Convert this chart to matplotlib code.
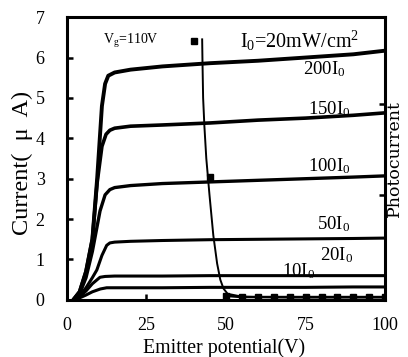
import matplotlib
matplotlib.use("Agg")
import matplotlib.pyplot as plt
import numpy as np

plt.rcParams['font.family'] = ['Liberation Serif', 'DejaVu Serif']
plt.rcParams['mathtext.default'] = 'regular'

# Photo-emission curves (x: emitter potential V, y: current uA)
x_200 = [2, 4, 6, 8, 9.5, 11, 12, 13, 15, 20, 30, 45, 60, 75, 90, 100]
y_200 = [0, 0.2, 0.7, 1.5, 3.0, 4.8, 5.35, 5.55, 5.63, 5.7, 5.78, 5.86, 5.92, 6.0, 6.08, 6.17]
x_150 = [2, 4, 6, 8, 9.5, 11, 12.3, 13.5, 15, 20, 30, 45, 60, 75, 90, 100]
y_150 = [0, 0.2, 0.7, 1.5, 2.9, 3.8, 4.1, 4.2, 4.25, 4.3, 4.33, 4.38, 4.45, 4.5, 4.57, 4.63]
x_100 = [2, 4, 6, 8, 10.4, 12, 13.5, 15, 20, 30, 45, 60, 75, 90, 100]
y_100 = [0, 0.15, 0.55, 1.2, 2.2, 2.6, 2.73, 2.78, 2.83, 2.88, 2.92, 2.96, 3.0, 3.04, 3.07]
x_50 = [2, 4, 6, 8, 9.4, 11, 12.5, 13.5, 15, 20, 30, 45, 60, 75, 90, 100]
y_50 = [0, 0.1, 0.3, 0.55, 0.74, 1.1, 1.35, 1.41, 1.43, 1.45, 1.47, 1.49, 1.5, 1.51, 1.52, 1.53]
x_20 = [2, 4, 6, 8, 10.4, 12, 15, 20, 30, 45, 60, 75, 90, 100]
y_20 = [0, 0.08, 0.22, 0.4, 0.56, 0.58, 0.59, 0.59, 0.59, 0.6, 0.6, 0.6, 0.6, 0.6]
x_10 = [2, 4, 6, 8, 10.5, 12.5, 15, 20, 30, 45, 60, 75, 90, 100]
y_10 = [0, 0.05, 0.12, 0.2, 0.27, 0.3, 0.3, 0.3, 0.3, 0.31, 0.31, 0.31, 0.32, 0.32]

# Photocurrent line and markers
x_pc_line = [42.5, 42.6, 42.8, 43.2, 43.8, 44.8, 46.0, 47.2, 48.2, 49.2, 50.5, 55, 60, 70, 80, 90, 100]
y_pc_line = [6.45, 5.9, 5.0, 4.3, 3.5, 2.6, 1.6, 0.9, 0.5, 0.28, 0.15, 0.08, 0.07, 0.06, 0.06, 0.06, 0.06]
x_pc_mark = [40, 45, 50, 55, 60, 65, 70, 75, 80, 85, 90, 95, 100]
y_pc_mark = [6.4, 3.05, 0.1, 0.07, 0.07, 0.07, 0.07, 0.07, 0.07, 0.07, 0.07, 0.07, 0.07]

labels = ["200I$_0$", "150I$_0$", "100I$_0$", "50I$_0$", "20I$_0$", "10I$_0$"]
label_pos = [(87.5, 5.72), (89, 4.72), (89, 3.3), (89, 1.88), (90, 1.1), (78, 0.72)]
right_ticks = [2.6, 4.85]

fig = plt.figure(figsize=(4.08, 3.57), dpi=100)
ax = fig.add_axes([0.164, 0.160, 0.780, 0.792])

for xs, ys, lw in [(x_200, y_200, 2.8), (x_150, y_150, 2.6), (x_100, y_100, 2.4),
                   (x_50, y_50, 2.2), (x_20, y_20, 2.2), (x_10, y_10, 2.2)]:
    ax.plot(xs, ys, color='black', lw=lw, solid_capstyle='round', solid_joinstyle='round')

ax.plot(x_pc_line, y_pc_line, color='black', lw=1.4)
ax.plot(x_pc_mark[2:], y_pc_mark[2:], color='black', lw=1.8)
ax.plot(x_pc_mark, y_pc_mark, 's', color='black', ms=5, ls='none')

for lab, (lx, ly) in zip(labels, label_pos):
    ax.text(lx, ly, lab, ha='right', va='center', fontsize=13.5)

ax.text(11.3, 6.42, "V$_g$=110V", ha='left', va='center', fontsize=10)
ax.text(54.5, 6.42, "I$_0$=20mW/cm$^2$", ha='left', va='center', fontsize=14.5)

ax.set_xlim(0, 100)
ax.set_ylim(0, 7)
ax.set_xticks([0, 25, 50, 75, 100])
ax.set_yticks(range(0, 8))
ax.tick_params(direction='in', length=4, width=1.8, labelsize=13)
ax.tick_params(axis='x', pad=12)
ax.tick_params(axis='y', pad=16)
for sp in ax.spines.values():
    sp.set_linewidth(2.2)

ax2 = ax.twinx()
ax2.set_ylim(0, 7)
ax2.set_yticks(right_ticks)
ax2.tick_params(axis='y', direction='in', length=4, width=1.8, labelright=False)
for sp in ax2.spines.values():
    sp.set_visible(False)

ax.set_xlabel("Emitter potential(V)", fontsize=14.3)
ax.xaxis.set_label_coords(0.494, -0.134)
ax.set_ylabel("Current(  μ  A)", fontsize=17.5)
ax.yaxis.set_label_coords(-0.107, 0.484)
fig.text(0.966, 0.556, "Photocurrent", rotation=90, ha='center', va='center',
         fontsize=12.5, family='DejaVu Serif')

fig.savefig("out.png", dpi=100)
